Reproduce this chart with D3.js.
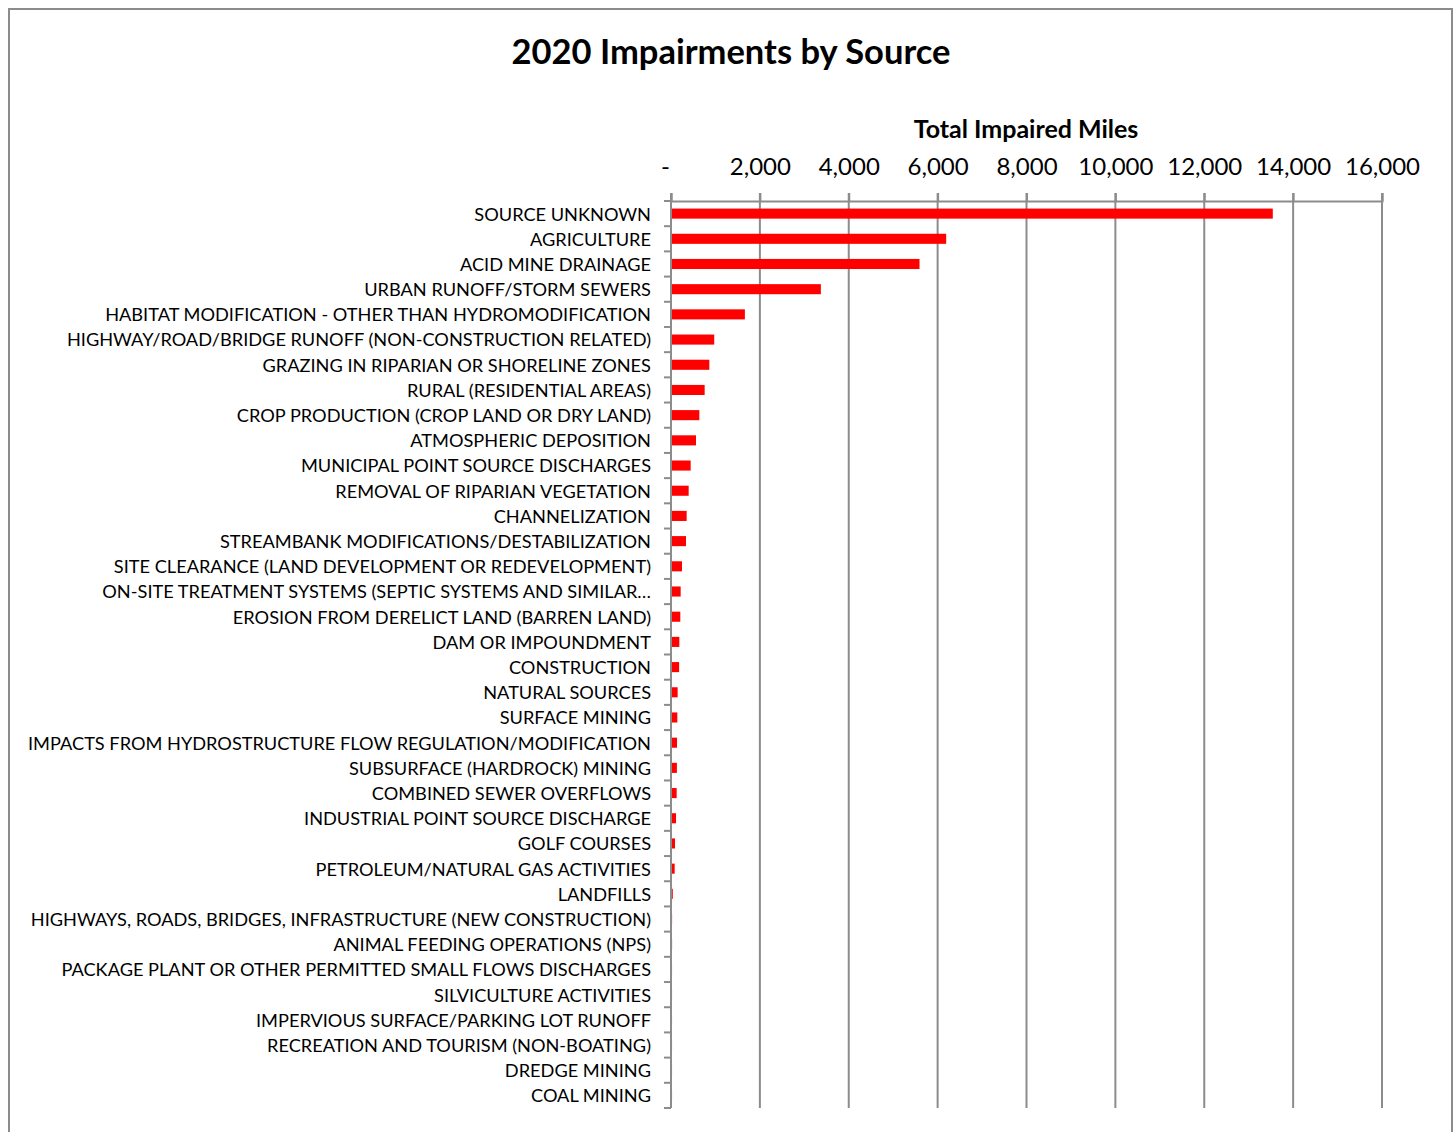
<!DOCTYPE html>
<html>
<head>
<meta charset="utf-8">
<script src="https://cdn.jsdelivr.net/npm/d3@7"></script>
<style>
  html, body { margin: 0; padding: 0; background: #fff; }
  svg { display: block; }
  text { font-family: Lato, "Open Sans", sans-serif; fill: #000; }
</style>
</head>
<body>
<svg id="chart" width="1454" height="1132"></svg>
<script>
const title = "2020 Impairments by Source";
const axisTitle = "Total Impaired Miles";

const categories = [
  "SOURCE UNKNOWN",
  "AGRICULTURE",
  "ACID MINE DRAINAGE",
  "URBAN RUNOFF/STORM SEWERS",
  "HABITAT MODIFICATION - OTHER THAN HYDROMODIFICATION",
  "HIGHWAY/ROAD/BRIDGE RUNOFF (NON-CONSTRUCTION RELATED)",
  "GRAZING IN RIPARIAN OR SHORELINE ZONES",
  "RURAL (RESIDENTIAL AREAS)",
  "CROP PRODUCTION (CROP LAND OR DRY LAND)",
  "ATMOSPHERIC DEPOSITION",
  "MUNICIPAL POINT SOURCE DISCHARGES",
  "REMOVAL OF RIPARIAN VEGETATION",
  "CHANNELIZATION",
  "STREAMBANK MODIFICATIONS/DESTABILIZATION",
  "SITE CLEARANCE (LAND DEVELOPMENT OR REDEVELOPMENT)",
  "ON-SITE TREATMENT SYSTEMS (SEPTIC SYSTEMS AND SIMILAR…",
  "EROSION FROM DERELICT LAND (BARREN LAND)",
  "DAM OR IMPOUNDMENT",
  "CONSTRUCTION",
  "NATURAL SOURCES",
  "SURFACE MINING",
  "IMPACTS FROM HYDROSTRUCTURE FLOW REGULATION/MODIFICATION",
  "SUBSURFACE (HARDROCK) MINING",
  "COMBINED SEWER OVERFLOWS",
  "INDUSTRIAL POINT SOURCE DISCHARGE",
  "GOLF COURSES",
  "PETROLEUM/NATURAL GAS ACTIVITIES",
  "LANDFILLS",
  "HIGHWAYS, ROADS, BRIDGES, INFRASTRUCTURE (NEW CONSTRUCTION)",
  "ANIMAL FEEDING OPERATIONS (NPS)",
  "PACKAGE PLANT OR OTHER PERMITTED SMALL FLOWS DISCHARGES",
  "SILVICULTURE ACTIVITIES",
  "IMPERVIOUS SURFACE/PARKING LOT RUNOFF",
  "RECREATION AND TOURISM (NON-BOATING)",
  "DREDGE MINING",
  "COAL MINING"
];

const impairedMiles = [
  13520, 6170, 5570, 3350, 1640, 950, 840, 735, 615, 540,
  420, 375, 330, 315, 225, 195, 187, 165, 160, 127,
  120, 113, 110, 105, 90, 68, 60, 18, 2, 2,
  1, 1, 1, 1, 1, 1
];

const tickValues = [0, 2000, 4000, 6000, 8000, 10000, 12000, 14000, 16000];

const svg = d3.select("#chart");

// frame
svg.append("rect")
  .attr("x", 9).attr("y", 9)
  .attr("width", 1443).attr("height", 1140)
  .attr("fill", "none").attr("stroke", "#8c8c8c").attr("stroke-width", 2);

const plotLeft = 671, plotRight = 1382, plotTop = 201, plotBottom = 1108;

const x = d3.scaleLinear().domain([0, 16000]).range([plotLeft, plotRight]);
const y = d3.scaleBand().domain(categories).range([plotTop, plotBottom]).paddingInner(0.6).paddingOuter(0.3);

// gridlines
svg.append("g").selectAll("line")
  .data(tickValues.slice(1))
  .join("line")
  .attr("x1", d => x(d)).attr("x2", d => x(d))
  .attr("y1", plotTop - 8).attr("y2", plotBottom)
  .attr("stroke", "#8c8c8c").attr("stroke-width", 2);

// top axis
const xAxis = d3.axisTop(x)
  .tickValues(tickValues)
  .tickSize(8)
  .tickPadding(18)
  .tickFormat(d => d === 0 ? "-" : d3.format(",")(d));

const gx = svg.append("g").attr("transform", `translate(0,${plotTop})`).call(xAxis);
gx.select(".domain").attr("stroke", "#8c8c8c").attr("stroke-width", 2);
gx.selectAll(".tick line").attr("stroke", "#8c8c8c").attr("stroke-width", 2);
gx.selectAll(".tick text")
  .attr("font-size", 24)
  .style("font-family", "Lato, 'Open Sans', sans-serif")
  .attr("fill", "#000");
gx.selectAll(".tick").filter(d => d === 0).select("text").attr("dx", -6);

// left axis (category)
const yAxis = d3.axisLeft(y).tickSize(0).tickPadding(20);
const gy = svg.append("g").attr("transform", `translate(${plotLeft},0)`).call(yAxis);
gy.select(".domain").remove();
gy.selectAll(".tick text")
  .attr("font-size", 18.2)
  .attr("dy", "0.38em")
  .style("font-family", "Lato, 'Open Sans', sans-serif")
  .attr("fill", "#000");

// category boundary ticks
const bounds = d3.range(categories.length + 1).map(i => plotTop + i * (plotBottom - plotTop) / categories.length);
svg.append("g").selectAll("line")
  .data(bounds)
  .join("line")
  .attr("x1", plotLeft - 7).attr("x2", plotLeft)
  .attr("y1", d => d).attr("y2", d => d)
  .attr("stroke", "#8c8c8c").attr("stroke-width", 2);

svg.append("line")
  .attr("x1", plotLeft).attr("x2", plotLeft)
  .attr("y1", plotTop - 8).attr("y2", plotBottom)
  .attr("stroke", "#8c8c8c").attr("stroke-width", 2);

// bars
svg.append("g").selectAll("rect")
  .data(categories.map((c, i) => ({ c, v: impairedMiles[i] })))
  .join("rect")
  .attr("x", x(0) + 1)
  .attr("y", d => y(d.c))
  .attr("width", d => Math.max(0, x(d.v) - x(0)))
  .attr("height", y.bandwidth())
  .attr("fill", "#ff0000");

// titles
svg.append("text")
  .attr("x", 731).attr("y", 64)
  .attr("text-anchor", "middle")
  .attr("font-size", 34.5).attr("font-weight", "bold")
  .text(title);

svg.append("text")
  .attr("x", 1026).attr("y", 138)
  .attr("text-anchor", "middle")
  .attr("font-size", 25).attr("font-weight", "bold")
  .text(axisTitle);
</script>
</body>
</html>
